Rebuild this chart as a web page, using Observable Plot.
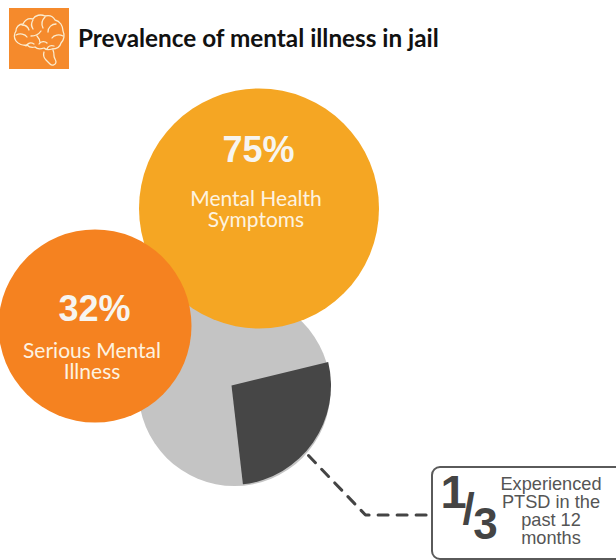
<!DOCTYPE html>
<html>
<head>
<meta charset="utf-8">
<script src="https://cdn.jsdelivr.net/npm/d3@7"></script>
<script src="https://cdn.jsdelivr.net/npm/@observablehq/plot@0.6"></script>
<style>
  html, body { margin: 0; padding: 0; background: #fff; width: 616px; height: 560px; overflow: hidden; }
  #head { position: relative; height: 80px; }
  #head svg { position: absolute; left: 9px; top: 8px; }
  #head h1 { position: absolute; left: 78px; top: 23px; margin: 0; font: 700 24.3px/30px Lato, sans-serif; color: #111; white-space: nowrap; }
  #chart svg { display: block; }
</style>
</head>
<body>
<div id="head">
  <svg width="60" height="61" viewBox="0 0 60 61">
    <rect width="60" height="61" fill="#f58a2c"/>
    <g fill="none" stroke="#fbeccf" stroke-width="1.3" stroke-linecap="round" stroke-linejoin="round">
      <path d="M7 33c-2-3-2-7 0-10 0-4 3-7 7-7 2-4 6-6 10-5 2-4 8-5 12-3 4-1 8 0 10 4 5 1 8 6 8 11 2 4 1 9-2 12-1 4-5 6-9 6-3 1-6 1-8-1-3 1-7 1-9-1-3 1-6 0-8-2-4 1-9-1-11-4z"/>
      <path d="M35 44c-1 3 0 6 2 8l4 4c2 2 6 1 6-2 0-2-2-4-2-6 0-2 0-4-1-6"/>
      <path d="M13 17c3 0 6 2 7 5M24 12c-2 3-2 6 0 9M36 9c-3 3-4 7-2 11M7 27c4-2 9-1 11 2M22 28c4 0 8-2 10-5M47 16c-4 0-8 3-8 8M54 28c-4-2-9-1-11 2M30 36c2-3 6-3 8-1M17 38c2-3 5-4 8-2M38 41c1-3 4-4 7-3M28 28c2 2 3 4 3 7"/>
    </g>
  </svg>
  <h1>Prevalence of mental illness in jail</h1>
</div>
<div id="chart"></div>
<script>
// Headline figures
const bubbleNames = ["Mental Health Symptoms", "Serious Mental Illness"];
const bubbleValues = [75, 32];
const bubbleLines = [["Mental Health", "Symptoms"], ["Serious Mental", "Illness"]];
// Share who experienced PTSD in the past 12 months
const ptsdShare = 1 / 3;
const ptsdNote = ["Experienced", "PTSD in the", "past 12", "months"];

// Diagram layout, in page pixels
const page = {width: 616, height: 560, top: 80};
const bubbleCentres = [[258.5, 208], [94.5, 325.5]];
const valueBaselines = [161, 320];
const captionBaselines = [205, 357];
const pieCentre = {x: 234, y: 389.5};
const pieRadius = 96;
const wedgeApex = {x: 231, y: 385};
const wedgeRadius = 99.5;
const leader = [[308, 455], [365, 514.5], [431, 514.5]];
const box = {x1: 432, y1: 467, x2: 640, y2: 559};
const bubbleFill = ["#f5a623", "#f58220"];

const rows = bubbleValues.map((value, i) => ({
  value, name: bubbleNames[i],
  x: bubbleCentres[i][0], y: bubbleCentres[i][1], fill: bubbleFill[i]
}));
const valueText = rows.map((d, i) => ({text: `${d.value}%`, x: d.x - 0.5, y: valueBaselines[i]}));
const captionText = rows.flatMap((d, i) => bubbleLines[i].map((text, j) => ({
  text, x: d.x - 3, y: captionBaselines[i] + j * 21.5
})));
const noteText = ptsdNote.map((text, i) => ({text, x: 550.5, y: 489 + i * 18.2}));

// The wedge is a custom dot symbol. The sweep scale keeps the slice's narrow proportion on the pie.
const wedgeStart = 76.4;
const sweep = d3.scaleLinear().domain([0, ptsdShare]).range([0, 97]);
const toRad = deg => (deg - 90) * Math.PI / 180;
const wedge = {
  draw(context, size) {
    const r = Math.sqrt(size / Math.PI);
    context.moveTo(0, 0);
    context.arc(0, 0, r, toRad(wedgeStart), toRad(wedgeStart + sweep(ptsdShare)));
    context.closePath();
  }
};

// Text marks sit on a shared baseline convention: y is the line's baseline.
const baseline = {textAnchor: "middle", lineAnchor: "bottom", x: "x", y: "y", text: "text"};

const chart = Plot.plot({
  width: page.width,
  height: page.height - page.top,
  margin: 0,
  style: {background: "transparent"},
  x: {domain: [0, page.width], range: [0, page.width], axis: null},
  y: {domain: [page.top, page.height], range: [0, page.height - page.top], axis: null},
  r: {type: "linear", domain: [32, 75], range: [96.5, 120]},
  marks: [
    // Pie
    Plot.dot([pieCentre], {x: "x", y: "y", r: pieRadius, fill: "#c4c4c4", stroke: null}),
    Plot.dot([wedgeApex], {x: "x", y: "y", symbol: wedge, fill: "#464646", stroke: null, r: wedgeRadius,
      style: {filter: "drop-shadow(1px 1px 1.5px rgba(0,0,0,.3))"}}),
    // Leader from the wedge to the callout
    Plot.line(leader, {x: d => d[0], y: d => d[1], stroke: "#444", strokeWidth: 3, strokeDasharray: "10 9", curve: "linear"}),
    // Bubbles
    Plot.dot(rows, {x: "x", y: "y", r: "value", fill: "fill", stroke: null}),
    Plot.text(valueText, {...baseline, fill: "#f7f5f0", fontFamily: "Liberation Sans", fontWeight: 700, fontSize: 36}),
    Plot.text(captionText, {...baseline, fill: "#fdf3e0", fontFamily: "Lato", fontWeight: 400, fontSize: 21}),
    // PTSD callout
    Plot.rect([box], {x1: "x1", y1: "y1", x2: "x2", y2: "y2", fill: "white", stroke: "#5a5a5a", strokeWidth: 2, rx: 8}),
    Plot.text([{text: "1", x: 453, y: 507}], {...baseline, fill: "#444", fontFamily: "Liberation Sans", fontWeight: 700, fontSize: 47}),
    Plot.text([{text: "/", x: 468, y: 523}], {...baseline, fill: "#444", fontFamily: "Liberation Sans", fontWeight: 700, fontSize: 44}),
    Plot.text([{text: "3", x: 485, y: 538}], {...baseline, fill: "#444", fontFamily: "Liberation Sans", fontWeight: 700, fontSize: 44}),
    Plot.text(noteText, {...baseline, fill: "#555", fontFamily: "Liberation Sans", fontSize: 18.2})
  ]
});
document.getElementById("chart").append(chart);
</script>
</body>
</html>
